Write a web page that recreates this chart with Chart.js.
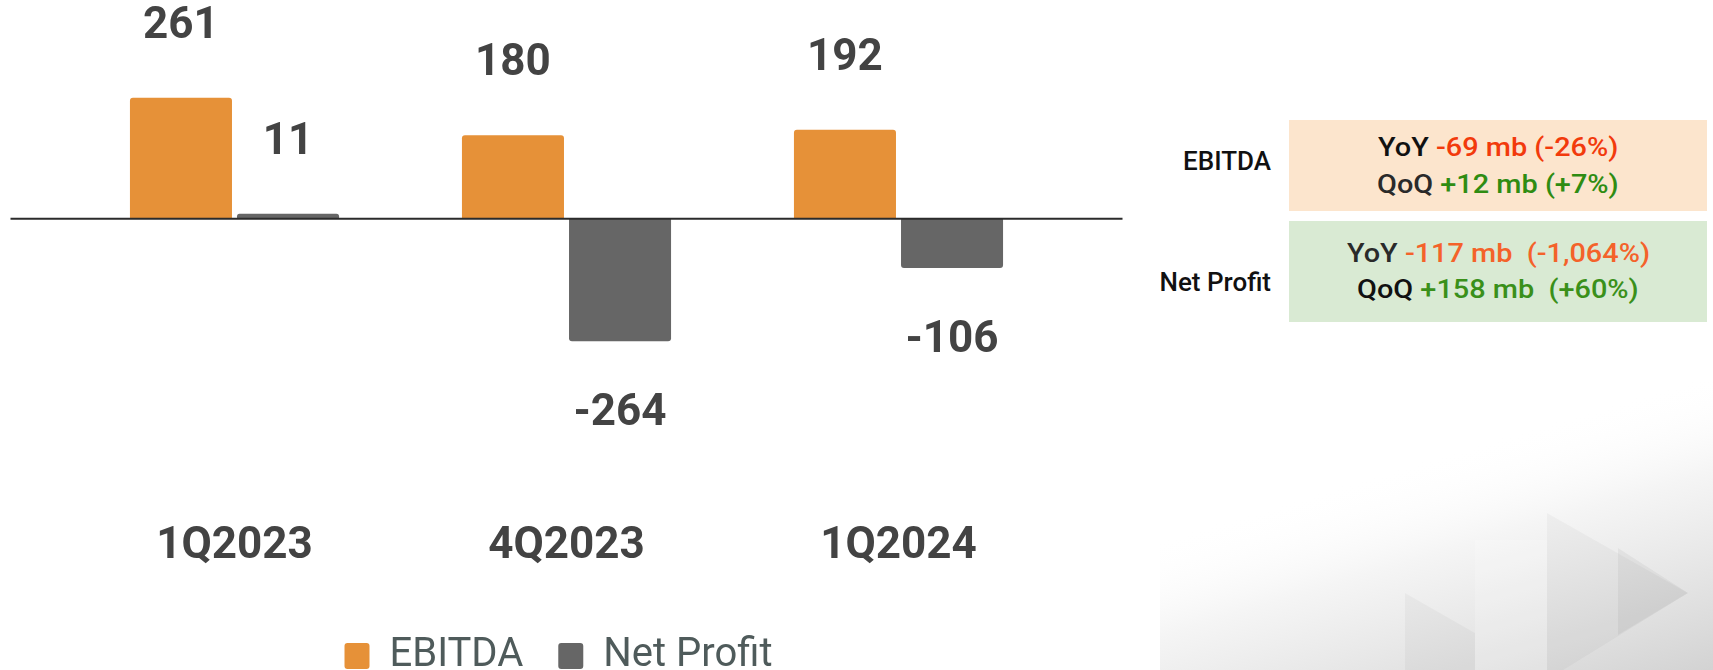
<!DOCTYPE html>
<html>
<head>
<meta charset="utf-8">
<script src="https://cdn.jsdelivr.net/npm/chart.js@4.4.1/dist/chart.umd.min.js"></script>
<style>
  html, body { margin:0; padding:0; width:1713px; height:670px; overflow:hidden; background:#fff; font-family: Roboto, "Noto Sans", sans-serif; }
  #deco { position:absolute; left:0; top:0; width:1713px; height:670px; }
  #wrap { position:absolute; left:0; top:0; width:1130px; height:686px; }
  .box { position:absolute; left:1289px; width:418px; }
  .line { position:absolute; left:0; width:100%; text-align:center; font-size:26px; font-weight:500; line-height:30px; white-space:pre; }
  .line span.in { display:inline-block; transform:scaleX(1.11); }
  .lbl { position:absolute; right:442px; font-size:26px; font-weight:500; color:#111; line-height:30px; white-space:nowrap; }
  .red { color:#f23a0c; }
  .org { color:#f4622a; }
  .grn { color:#2f8c12; }
  .grn2 { color:#3a901a; }
</style>
</head>
<body>
<svg id="deco" width="1713" height="670">
  <defs>
    <linearGradient id="g1" gradientUnits="userSpaceOnUse" x1="1420" y1="460" x2="1510" y2="760">
      <stop offset="0" stop-color="#ffffff" stop-opacity="0"/>
      <stop offset="0.3" stop-color="#f3f3f3" stop-opacity="0.85"/>
      <stop offset="1" stop-color="#cdcdcd" stop-opacity="1"/>
    </linearGradient>
  </defs>
  <rect x="1160" y="380" width="553" height="290" fill="url(#g1)"/>
  <polygon points="1547,513 1688,593 1547,680" fill="#000" fill-opacity="0.03"/>
  <polygon points="1618,548 1688,593 1618,635" fill="#000" fill-opacity="0.045"/>
  <polygon points="1405,593 1475,633 1475,670 1405,670" fill="#000" fill-opacity="0.03"/>
  <rect x="1475" y="540" width="72" height="130" fill="#fff" fill-opacity="0.2"/>
</svg>

<div id="wrap"><canvas id="c"></canvas></div>

<div class="box" style="top:120px;height:91px;background:#fce5cd;">
  <div class="line" style="top:12px;"><span class="in"><span style="color:#111">YoY</span> <span class="red">-69 mb (-26%)</span></span></div>
  <div class="line" style="top:49px;"><span class="in"><span style="color:#2a2a2a">QoQ</span> <span class="grn">+12 mb (+7%)</span></span></div>
</div>
<div class="box" style="top:221px;height:101px;background:#d9ead3;">
  <div class="line" style="top:17px;"><span class="in"><span style="color:#2a2a2a">YoY</span> <span class="org">-117 mb  (-1,064%)</span></span></div>
  <div class="line" style="top:53px;"><span class="in"><span style="color:#111">QoQ</span> <span class="grn2">+158 mb  (+60%)</span></span></div>
</div>
<div class="lbl" style="top:146px;">EBITDA</div>
<div class="lbl" style="top:267px;">Net Profit</div>

<script>
const categories = ['1Q2023', '4Q2023', '1Q2024'];
const ebitdaValues = [261, 180, 192];
const netProfitValues = [11, -264, -106];
const seriesNames = ['EBITDA', 'Net Profit'];

const zeroLine = {
  id: 'zeroLine',
  afterDatasetsDraw(chart) {
    const y = chart.scales.y.getPixelForValue(0);
    const { ctx, chartArea } = chart;
    ctx.save();
    ctx.strokeStyle = '#2b2b2b';
    ctx.lineWidth = 2;
    ctx.beginPath();
    ctx.moveTo(chartArea.left - 58, y);
    ctx.lineTo(chartArea.right + 58, y);
    ctx.stroke();
    ctx.restore();
  }
};

const valueLabels = {
  id: 'valueLabels',
  afterDatasetsDraw(chart) {
    const ctx = chart.ctx;
    ctx.save();
    ctx.font = 'bold 44px Roboto';
    ctx.fillStyle = '#434343';
    ctx.textAlign = 'center';
    ctx.textBaseline = 'middle';
    chart.data.datasets.forEach((ds, di) => {
      const meta = chart.getDatasetMeta(di);
      meta.data.forEach((el, i) => {
        const v = ds.data[i];
        const y = v >= 0 ? el.y - 71 : el.y + 73;
        ctx.fillText(String(v), el.x, y);
      });
    });
    ctx.restore();
  }
};

const legendShift = {
  id: 'legendShift',
  afterLayout(chart) {
    if (chart.legend) { chart.legend.left -= 8; chart.legend.right -= 8; }
  }
};

new Chart(document.getElementById('c'), {
  type: 'bar',
  data: {
    labels: categories,
    datasets: [
      { label: seriesNames[0], data: ebitdaValues, backgroundColor: '#e69138', borderRadius: 3, categoryPercentage: 0.645, barPercentage: 0.953 },
      { label: seriesNames[1], data: netProfitValues, backgroundColor: '#666666', borderRadius: 3, categoryPercentage: 0.645, barPercentage: 0.953 }
    ]
  },
  options: {
    responsive: true,
    maintainAspectRatio: false,
    animation: false,
    layout: { padding: { left: 68.5, right: 65.5, top: 0, bottom: 0 } },
    plugins: {
      legend: {
        position: 'bottom',
        labels: {
          font: { family: 'Roboto', size: 40 },
          color: '#4f5b5b',
          boxWidth: 25,
          boxHeight: 26,
          padding: 35,
          useBorderRadius: true,
          borderRadius: 3
        }
      },
      tooltip: { enabled: false }
    },
    scales: {
      x: {
        grid: { display: false, drawTicks: false },
        border: { display: false },
        ticks: { font: { family: 'Roboto', size: 44, weight: 'bold' }, color: '#434343', padding: 2 },
        afterFit(axis) { axis.height = 82; }
      },
      y: { display: false, min: -647.5, max: 472 }
    }
  },
  plugins: [zeroLine, valueLabels, legendShift]
});
</script>
</body>
</html>
